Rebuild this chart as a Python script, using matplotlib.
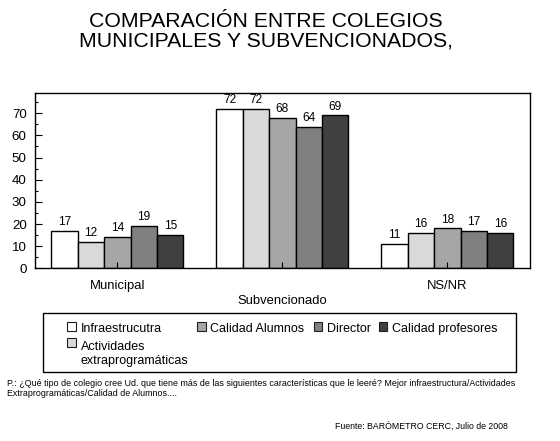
import matplotlib
matplotlib.use("Agg")
import matplotlib.pyplot as plt
import numpy as np
from matplotlib.patches import Rectangle

plt.rcParams['font.family'] = ['Liberation Sans', 'DejaVu Sans']

groups = ["Municipal", "Subvencionado", "NS/NR"]
series = ["Infraestrucutra", "Actividades\nextraprogramáticas", "Calidad Alumnos",
          "Director", "Calidad profesores"]
values = {
    "Infraestrucutra": [17, 72, 11],
    "Actividades\nextraprogramáticas": [12, 72, 16],
    "Calidad Alumnos": [14, 68, 18],
    "Director": [19, 64, 17],
    "Calidad profesores": [15, 69, 16],
}
colors = ["#ffffff", "#d9d9d9", "#a6a6a6", "#808080", "#404040"]

W, H = 560, 441
fig = plt.figure(figsize=(5.6, 4.41), dpi=100)
ax = fig.add_axes([0.0625, 0.3916, 0.8839, 0.3968])

x = np.arange(len(groups))
w = 0.16
for i, s in enumerate(series):
    pos = x + (i - 2) * w
    ax.bar(pos, values[s], width=w, color=colors[i], edgecolor="black", linewidth=1.0)
    for p, v in zip(pos, values[s]):
        ax.text(p, v + 1.3, str(v), ha="center", va="bottom", fontsize=8.6)

ax.set_xlim(-0.5, 2.5)
ax.set_ylim(0, 79)
ax.set_yticks(range(0, 71, 10))
ax.set_yticks(range(5, 80, 10), minor=True)
ax.tick_params(axis="y", which="major", direction="in", length=5, width=0.8, labelsize=9.6, pad=6)
ax.tick_params(axis="y", which="minor", direction="in", length=2.5, width=0.8)
ax.set_xticks(x)
ax.set_xticklabels([])
ax.tick_params(axis="x", direction="in", length=4, width=0.8)
for sp in ax.spines.values():
    sp.set_linewidth(1.0)

# group labels (staggered)
offsets = [-0.065, -0.155, -0.065]
for xi, g, off in zip(x, groups, offsets):
    ax.text(xi, off, g, transform=ax.get_xaxis_transform(), ha="center", va="top", fontsize=9.4)

# Title
fig.text(0.475, 0.972, "COMPARACIÓN ENTRE COLEGIOS\nMUNICIPALES Y SUBVENCIONADOS,",
         ha="center", va="top", fontsize=15.3, linespacing=0.98)

# Legend (box + entries laid out like the original)
def fx(px):
    return px / W

def fy(py):
    return 1 - py / H

fig.patches.append(Rectangle((fx(43), fy(372)), (516 - 43) / W, (372 - 313) / H,
                             transform=fig.transFigure, fill=False, edgecolor="black", linewidth=1.0))
# (square left x, square top y, text x, baseline y of last text line) in pixels
entry_pos = [(67, 322, 80.5, 332), (67, 338, 80.5, 364), (197, 322, 210, 332),
             (313.5, 322, 326.5, 332), (378.5, 322, 392.5, 332)]
sq = 8.5
for (sx, sy, tx, ty), s, c in zip(entry_pos, series, colors):
    fig.patches.append(Rectangle((fx(sx), fy(sy + sq)), sq / W, sq / H, transform=fig.transFigure,
                                 facecolor=c, edgecolor="#202020", linewidth=0.8))
    fig.text(fx(tx), fy(ty), s, ha="left", va="baseline", fontsize=9.0, linespacing=1.2)

fig.text(7 / W, 1 - 379 / H,
         "P.: ¿Qué tipo de colegio cree Ud. que tiene más de las siguientes características que le leeré? Mejor infraestructura/Actividades\nExtraprogramáticas/Calidad de Alumnos....",
         ha="left", va="top", fontsize=6.4, linespacing=1.2)
fig.text(508 / W, 1 - 422 / H, "Fuente: BARÓMETRO CERC, Julio de 2008",
         ha="right", va="top", fontsize=6.3)

fig.savefig("out.png", dpi=100)
